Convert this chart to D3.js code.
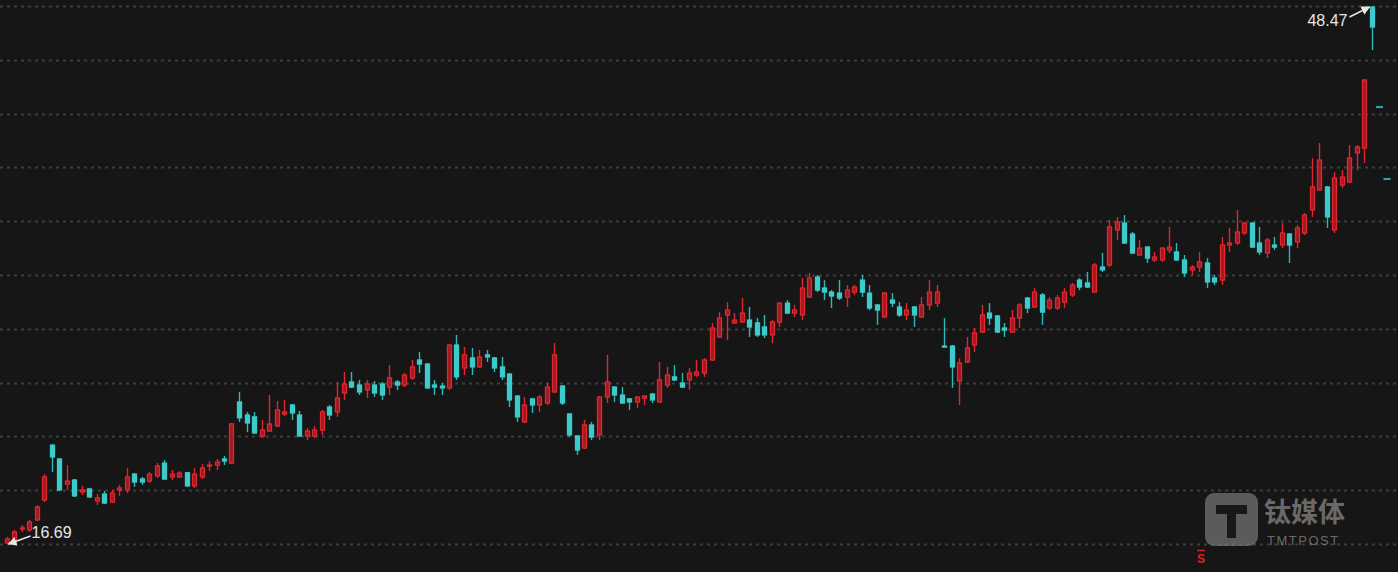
<!DOCTYPE html>
<html><head><meta charset="utf-8">
<script src="https://cdn.jsdelivr.net/npm/d3@7"></script>
<style>html,body{margin:0;padding:0;background:#161616;overflow:hidden}svg{display:block}</style>
</head><body><svg id="c" width="1398" height="572"></svg>
<script>
// ---- data (prices) ----
const openP = [16.75,16.93,17.58,17.52,18.11,19.29,22.53,21.71,20.23,20.47,19.76,19.94,19.23,19.64,19.17,19.88,19.88,20.82,20.53,20.41,
20.71,21.47,20.65,20.65,20.90,20.12,20.65,21.30,21.35,21.71,21.47,25.08,24.31,24.20,23.07,23.36,23.66,24.37,24.90,24.31,
23.07,23.07,23.42,24.78,24.49,25.61,26.26,26.08,25.79,26.08,26.14,25.96,26.26,26.08,26.50,27.56,27.32,26.08,26.02,25.91,
28.44,27.09,27.68,27.15,27.86,27.68,27.15,26.73,25.43,23.90,25.26,24.90,25.02,25.67,26.02,24.37,23.07,22.36,23.72,23.13,
25.37,25.96,25.49,25.26,25.08,25.31,25.55,25.08,26.08,26.56,26.20,26.38,26.67,26.79,27.56,28.92,30.22,29.75,29.80,29.92,
29.75,29.51,29.04,29.80,30.92,30.33,30.22,31.28,32.46,31.81,31.57,31.51,31.28,31.57,32.28,31.51,30.81,30.10,31.10,30.69,
30.22,30.69,30.10,30.81,30.92,28.38,28.38,26.32,27.44,28.45,29.21,30.33,30.16,29.45,29.21,30.04,31.22,30.69,31.40,30.63,
30.63,30.98,31.40,32.28,32.11,31.57,33.05,33.17,35.24,35.65,35.00,33.76,34.23,33.47,33.47,34.06,33.94,33.47,32.88,33.05,
33.29,32.40,32.28,34.35,34.47,35.06,35.65,34.47,33.88,34.35,34.35,35.00,34.53,35.06,36.42,37.60,37.78,35.24,37.90,38.07,
39.79,40.08,48.40];
const highP = [17.11,17.52,17.81,18.11,18.99,20.82,22.59,21.77,21.35,20.53,20.12,20.00,19.64,19.82,19.88,20.18,21.18,20.88,20.65,20.94,
21.47,21.65,21.06,21.00,20.94,21.18,21.41,21.59,21.71,21.89,23.84,25.67,24.49,24.49,24.02,25.49,25.14,25.20,24.96,24.55,
23.54,23.66,24.61,24.90,26.26,26.85,26.85,26.38,26.38,26.32,26.26,27.26,26.38,26.79,27.56,28.03,27.38,26.38,26.20,28.51,
29.04,28.33,28.27,28.15,28.15,27.74,27.74,26.79,25.49,25.37,25.31,25.49,26.20,28.56,26.08,24.43,23.13,24.02,23.90,25.43,
27.86,26.02,25.96,25.31,25.43,25.49,25.61,27.44,27.15,27.26,26.79,27.09,27.56,27.68,29.75,30.39,30.98,30.33,31.22,30.69,
30.04,30.22,29.92,30.98,31.10,30.81,32.40,32.70,32.58,32.28,31.69,32.28,31.99,31.99,32.58,31.99,30.87,31.57,31.51,30.98,
30.92,30.75,31.28,32.28,31.99,30.04,28.45,27.68,28.92,29.45,30.81,30.92,30.22,29.75,30.51,30.92,31.28,31.81,31.51,31.28,
31.40,31.81,32.11,32.40,32.76,33.29,33.88,35.83,36.01,36.12,35.12,34.65,34.29,33.94,34.23,35.42,34.47,33.76,33.17,33.94,
33.58,32.58,34.83,35.36,36.42,35.71,35.71,35.42,34.77,34.83,35.65,35.06,35.53,36.24,39.49,40.38,37.84,38.66,38.78,40.26,
40.26,44.15,48.47];
const lowP = [16.69,16.75,17.40,17.40,18.05,19.17,20.94,19.82,19.88,19.47,19.58,19.41,18.99,19.05,19.11,19.53,19.70,20.06,20.18,20.29,
20.59,20.47,20.47,20.59,20.06,20.00,20.53,21.00,21.06,21.35,21.41,23.90,23.30,23.19,22.95,23.30,23.60,24.25,24.02,23.01,
22.83,22.95,23.13,24.02,24.20,25.20,25.91,25.49,25.31,25.37,25.20,25.49,25.79,25.96,26.38,26.79,25.85,25.49,25.49,25.79,
26.38,26.67,26.67,27.09,27.44,26.85,26.38,24.78,23.90,23.84,24.43,24.49,24.90,25.61,24.90,23.01,21.95,22.30,22.83,22.83,
25.02,25.08,24.96,24.61,24.72,24.90,25.02,25.02,25.91,26.32,25.91,25.79,26.56,26.56,27.50,28.86,28.74,29.69,29.75,28.92,
28.92,28.86,28.56,29.51,30.27,30.10,29.92,31.22,31.57,31.10,30.63,31.10,30.69,31.40,31.28,30.51,29.63,30.04,30.69,30.10,
29.92,29.51,30.04,30.51,30.69,28.38,25.91,24.90,27.38,28.03,29.16,29.63,29.16,28.92,29.16,29.45,30.33,30.63,29.63,30.51,
30.51,30.63,31.28,31.69,31.81,31.51,32.76,33.05,34.65,34.41,33.82,33.70,33.29,33.35,33.35,33.88,33.41,32.46,32.58,32.76,
31.81,31.99,31.99,33.94,34.35,34.94,34.17,33.76,33.58,34.06,34.17,33.29,34.17,34.94,36.01,37.54,35.36,35.06,37.72,38.01,
38.78,39.20,45.87];
const closeP = [16.99,17.40,17.64,17.99,18.88,20.65,21.83,19.88,20.41,19.53,19.88,19.47,19.41,19.11,19.70,20.00,20.65,20.35,20.35,20.82,
21.30,20.53,20.82,20.88,20.12,20.82,21.18,21.35,21.53,21.59,23.78,24.14,23.84,23.25,23.42,23.78,24.61,24.49,24.43,23.07,
23.36,23.42,24.49,24.31,25.31,26.14,25.96,25.67,26.14,25.61,25.49,26.50,26.08,26.67,27.15,27.32,25.91,25.96,25.91,28.44,
26.56,27.86,27.15,27.74,27.74,27.09,26.56,25.20,24.20,24.90,24.90,25.37,25.96,27.86,25.02,23.13,22.24,23.72,23.01,25.37,
26.26,25.49,25.02,25.08,25.37,25.43,25.20,26.38,26.67,26.38,25.96,26.79,26.85,27.56,29.45,30.04,30.51,29.92,30.33,29.51,
29.04,29.04,29.80,30.92,30.33,30.51,31.81,32.40,31.69,31.57,31.34,31.22,31.69,31.87,31.57,30.63,30.51,31.51,30.92,30.22,
30.51,30.22,30.81,31.57,31.57,28.38,27.15,27.38,28.27,29.16,30.22,30.04,29.21,29.33,30.04,30.81,30.63,31.57,30.39,31.10,
31.22,31.57,31.99,31.87,31.87,33.17,32.88,35.42,35.71,34.47,33.88,34.17,33.58,33.64,34.17,34.23,33.47,32.70,33.05,33.35,
32.17,32.17,34.35,34.47,35.12,35.65,34.23,33.94,34.65,34.23,35.06,34.35,35.36,36.12,37.78,39.37,36.01,38.31,38.37,39.49,
40.14,44.10,47.23];
const days = openP.map((_, i) => "D" + (i + 1));   // trading-day categories
const priceMin = 16.69, priceMax = 48.47;           // labelled extremes
const sideMarks = [{slot: 183, value: 42.50}, {slot: 184, value: 38.25}];
const gridCount = 10;

// ---- drawing ----
const W = 1398, H = 572;
const svg = d3.select("#c");
svg.append("rect").attr("width", W).attr("height", H).attr("fill", "#161616");

const x = d3.scaleLinear().domain([0, days.length - 1]).range([6.5, 1371.5]);
const y = d3.scaleLinear().domain([priceMin, priceMax]).range([544, 6]);

// grid
const gridVals = d3.range(gridCount + 1).map(k => priceMin + k * (priceMax - priceMin) / gridCount);
svg.append("g").selectAll("line").data(gridVals).join("line")
  .attr("x1", 0).attr("x2", W)
  .attr("y1", d => Math.round(y(d)) + 0.5).attr("y2", d => Math.round(y(d)) + 0.5)
  .attr("stroke", "#3d3d3d").attr("stroke-width", 2).attr("stroke-dasharray", "3,4");

const data = days.map((d, i) => ({i, o: openP[i], h: highP[i], l: lowP[i], c: closeP[i]}));
const up = d => d.c > d.o || (d.c === d.o && d.i > 0 && d.c >= closeP[d.i - 1]);
const RED = "#e0262e", REDFILL = "#9e1b22", CY = "#3ccaca";

const g = svg.append("g");
const cand = g.selectAll("g").data(data).join("g");
cand.append("line")
  .attr("x1", d => Math.round(x(d.i)) + 0.5).attr("x2", d => Math.round(x(d.i)) + 0.5)
  .attr("y1", d => y(d.h)).attr("y2", d => y(d.l))
  .attr("stroke", d => up(d) ? RED : "#2fb8b8").attr("stroke-width", 1.4);
cand.append("rect")
  .attr("x", d => Math.round(x(d.i)) - 1.5).attr("width", 4)
  .attr("y", d => y(Math.max(d.o, d.c)))
  .attr("height", d => Math.max(1, Math.abs(y(d.o) - y(d.c))))
  .attr("fill", d => up(d) ? REDFILL : CY)
  .attr("stroke", d => up(d) ? RED : CY).attr("stroke-width", 1.3);

// side marks
svg.append("g").selectAll("rect").data(sideMarks).join("rect")
  .attr("x", d => x(d.slot) - 3).attr("width", 7)
  .attr("y", d => y(d.value) - 1).attr("height", 2).attr("fill", "#2aa8a8");

// extreme labels with arrows
svg.append("defs").append("marker").attr("id", "ah").attr("viewBox", "0 0 10 10")
  .attr("refX", 9).attr("refY", 5).attr("markerWidth", 6).attr("markerHeight", 6).attr("orient", "auto")
  .append("path").attr("d", "M0,0 L10,5 L0,10 z").attr("fill", "#e6e6e6");
const iMax = highP.indexOf(d3.max(highP)), iMin = lowP.indexOf(d3.min(lowP));
svg.append("line").attr("x1", x(iMax) - 22).attr("y1", y(priceMax) + 11)
  .attr("x2", x(iMax) - 2).attr("y2", y(priceMax) + 1)
  .attr("stroke", "#e6e6e6").attr("stroke-width", 1.5).attr("marker-end", "url(#ah)");
svg.append("text").attr("x", x(iMax) - 24).attr("y", y(priceMax) + 20).attr("text-anchor", "end")
  .attr("fill", "#e6e6e6").attr("font-family", "Arial, 'Liberation Sans', sans-serif").attr("font-size", 16)
  .text(priceMax.toFixed(2));
svg.append("line").attr("x1", x(iMin) + 24).attr("y1", y(priceMin) - 8)
  .attr("x2", x(iMin) + 2).attr("y2", y(priceMin))
  .attr("stroke", "#e6e6e6").attr("stroke-width", 1.5).attr("marker-end", "url(#ah)");
svg.append("text").attr("x", x(iMin) + 25).attr("y", y(priceMin) - 6)
  .attr("fill", "#e6e6e6").attr("font-family", "Arial, 'Liberation Sans', sans-serif").attr("font-size", 16)
  .text(priceMin.toFixed(2));

// watermark
const wm = svg.append("g").attr("opacity", 0.6);
wm.append("rect").attr("x", 1205).attr("y", 493).attr("width", 53).attr("height", 53).attr("rx", 9).attr("fill", "#8a8a8a");
wm.append("path").attr("d", "M1216,505 h31 v9 h-11 v24 h-9 v-24 h-11 z").attr("fill", "#1a1a1a");
wm.append("text").attr("x", 1264).attr("y", 522).attr("fill", "#a0a0a0").attr("font-size", 27).attr("font-weight", "bold")
  .attr("font-family", "'Noto Sans CJK SC', sans-serif").text("钛媒体");
wm.append("text").attr("x", 1267).attr("y", 545).attr("fill", "#a0a0a0").attr("font-size", 13).attr("letter-spacing", 1.5)
  .attr("font-family", "Arial, 'Liberation Sans', sans-serif").text("TMTPOST");

// event marker
svg.append("text").attr("x", 1201).attr("y", 563).attr("text-anchor", "middle").attr("fill", "#e02020")
  .attr("font-size", 12).attr("font-weight", "bold").attr("font-family", "Arial, sans-serif").text("S");
svg.append("line").attr("x1", 1197).attr("x2", 1205).attr("y1", 550.5).attr("y2", 550.5).attr("stroke", "#e02020").attr("stroke-width", 1.5);
</script></body></html>
